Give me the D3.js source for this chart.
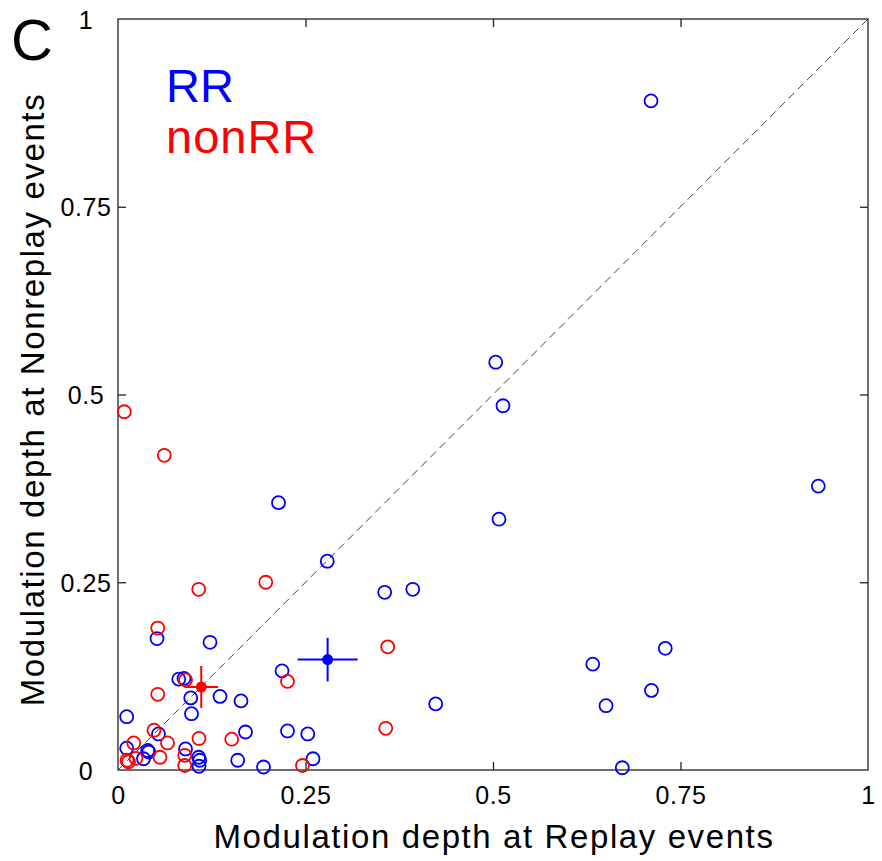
<!DOCTYPE html>
<html lang="en">
<head>
  <meta charset="UTF-8">
  <script src="https://d3js.org/d3.v7.min.js"></script>
  <title>Modulation depth</title>
  <style>
    body { margin: 0; background: #fff; }
    text { font-family: Arial, "Liberation Sans", sans-serif; }
  </style>
</head>
<body>
  <svg width="882" height="861"></svg>
  <script>
    // RR cells (blue)
    const rrX = [0.7107, 0.5036, 0.5133, 0.9337, 0.508, 0.214, 0.279, 0.3556, 0.393, 0.052,
      0.1227, 0.2187, 0.081, 0.088, 0.097, 0.136, 0.164, 0.098, 0.0116, 0.054,
      0.170, 0.226, 0.253, 0.0116, 0.0396, 0.041, 0.034, 0.090, 0.1076, 0.109,
      0.108, 0.1596, 0.194, 0.260, 0.4236, 0.633, 0.7297, 0.7113, 0.6507, 0.6724];
    const rrY = [0.891, 0.543, 0.485, 0.378, 0.334, 0.356, 0.278, 0.2366, 0.2406, 0.175,
      0.170, 0.132, 0.121, 0.122, 0.096, 0.098, 0.092, 0.075, 0.071, 0.048,
      0.0506, 0.052, 0.048, 0.029, 0.026, 0.024, 0.015, 0.028, 0.017, 0.013,
      0.005, 0.013, 0.004, 0.015, 0.088, 0.141, 0.162, 0.106, 0.0856, 0.003];
    // nonRR cells (red)
    const nonX = [0.0084, 0.0617, 0.1076, 0.197, 0.053, 0.226, 0.090, 0.053, 0.048, 0.108,
      0.1516, 0.066, 0.021, 0.024, 0.014, 0.012, 0.056, 0.089, 0.089, 0.246,
      0.3596, 0.357];
    const nonY = [0.477, 0.419, 0.2406, 0.25, 0.189, 0.118, 0.120, 0.1008, 0.053, 0.042,
      0.041, 0.036, 0.036, 0.0156, 0.011, 0.013, 0.017, 0.0196, 0.006, 0.006,
      0.164, 0.0555];
    // group means with error bars [x, y, xErr, yErr]
    const rrMean = [0.2795, 0.147, 0.040, 0.029];
    const nonMean = [0.111, 0.1105, 0.0225, 0.028];

    const tickVals = [0, 0.25, 0.5, 0.75, 1];
    const tickText = ["0", "0.25", "0.5", "0.75", "1"];

    const svg = d3.select("svg");
    const xScale = d3.scaleLinear().domain([0, 1]).range([118, 868]);
    const yScale = d3.scaleLinear().domain([0, 1]).range([770, 19]);

    // diagonal reference line
    svg.append("line")
      .attr("x1", xScale(0)).attr("y1", yScale(0))
      .attr("x2", xScale(1)).attr("y2", yScale(1))
      .style("stroke", "#444")
      .style("stroke-width", "1px")
      .style("stroke-dasharray", "8,5");

    // box frame
    svg.append("rect")
      .attr("x", xScale(0)).attr("y", yScale(1))
      .attr("width", xScale(1) - xScale(0))
      .attr("height", yScale(0) - yScale(1))
      .style("fill", "none")
      .style("stroke", "#222")
      .style("stroke-width", "1.3px");

    // axes, ticks pointing inward like matlab
    const xAxis = d3.axisBottom(xScale).tickValues(tickVals)
      .tickFormat((d, i) => tickText[i]).tickSizeInner(-8).tickSizeOuter(0).tickPadding(0);
    const yAxis = d3.axisLeft(yScale).tickValues(tickVals)
      .tickFormat((d, i) => tickText[i]).tickSizeInner(-8).tickSizeOuter(0).tickPadding(0);

    svg.append("g").attr("id", "xAxisG")
      .attr("transform", `translate(0,${yScale(0)})`).call(xAxis);
    svg.append("g").attr("id", "yAxisG")
      .attr("transform", `translate(${xScale(0)},0)`).call(yAxis);
    svg.append("g").attr("transform", `translate(0,${yScale(1)})`)
      .call(d3.axisTop(xScale).tickValues(tickVals).tickFormat("").tickSizeInner(-8).tickSizeOuter(0));
    svg.append("g").attr("transform", `translate(${xScale(1)},0)`)
      .call(d3.axisRight(yScale).tickValues(tickVals).tickFormat("").tickSizeInner(-8).tickSizeOuter(0));

    svg.selectAll(".domain").style("display", "none");
    svg.selectAll(".tick line").style("stroke", "#222").style("stroke-width", "1.3px");
    svg.selectAll(".tick text")
      .style("font-size", "25px")
      .style("letter-spacing", "0.6px")
      .style("font-family", "Arial, 'Liberation Sans', sans-serif")
      .style("fill", "#000");
    // x labels sit just below the frame, y labels centred in the left margin
    d3.select("#xAxisG").selectAll(".tick text")
      .attr("y", 34).attr("dy", null);
    d3.select("#yAxisG").selectAll(".tick text")
      .attr("x", -32).attr("text-anchor", "middle").attr("dy", "0.36em");
    // hide the edge tick marks that sit on the frame
    svg.selectAll(".tick").filter(d => d === 0 || d === 1).select("line").style("display", "none");

    // open circles
    const drawCircles = (xs, ys, color) => {
      svg.append("g").selectAll("circle")
        .data(xs.map((x, i) => [x, ys[i]]))
        .enter()
        .append("circle")
        .attr("cx", d => xScale(d[0]))
        .attr("cy", d => yScale(d[1]))
        .attr("r", 6.5)
        .style("fill", "none")
        .style("stroke", color)
        .style("stroke-width", "1.8px");
    };
    drawCircles(rrX, rrY, "#0000ff");
    drawCircles(nonX, nonY, "#ff0000");

    // means with error bars
    const drawMean = (m, color) => {
      const g = svg.append("g");
      g.append("line")
        .attr("x1", xScale(m[0] - m[2])).attr("x2", xScale(m[0] + m[2]))
        .attr("y1", yScale(m[1])).attr("y2", yScale(m[1]))
        .style("stroke", color).style("stroke-width", "2px");
      g.append("line")
        .attr("x1", xScale(m[0])).attr("x2", xScale(m[0]))
        .attr("y1", yScale(m[1] - m[3])).attr("y2", yScale(m[1] + m[3]))
        .style("stroke", color).style("stroke-width", "2px");
      g.append("circle")
        .attr("cx", xScale(m[0])).attr("cy", yScale(m[1]))
        .attr("r", 5.5)
        .style("fill", color);
    };
    drawMean(rrMean, "#0000ff");
    drawMean(nonMean, "#ff0000");

    // legend
    svg.append("text").attr("x", 166).attr("y", 102)
      .style("font-size", "47px").style("fill", "#0000ff").text("RR");
    svg.append("text").attr("x", 166).attr("y", 153)
      .style("font-size", "47px").style("letter-spacing", "1px").style("fill", "#ff0000").text("nonRR");

    // panel letter
    svg.append("text").attr("x", 11).attr("y", 60)
      .style("font-size", "58px").style("fill", "#000").text("C");

    // axis labels
    svg.append("text")
      .attr("x", xScale(0.5) + 1).attr("y", 848)
      .attr("text-anchor", "middle")
      .style("font-size", "33px").style("letter-spacing", "1.6px")
      .text("Modulation depth at Replay events");
    svg.append("text")
      .attr("transform", `translate(44,${yScale(0.5) + 5}) rotate(-90)`)
      .attr("text-anchor", "middle")
      .style("font-size", "33px").style("letter-spacing", "1.6px")
      .text("Modulation depth at Nonreplay events");
  </script>
</body>
</html>
